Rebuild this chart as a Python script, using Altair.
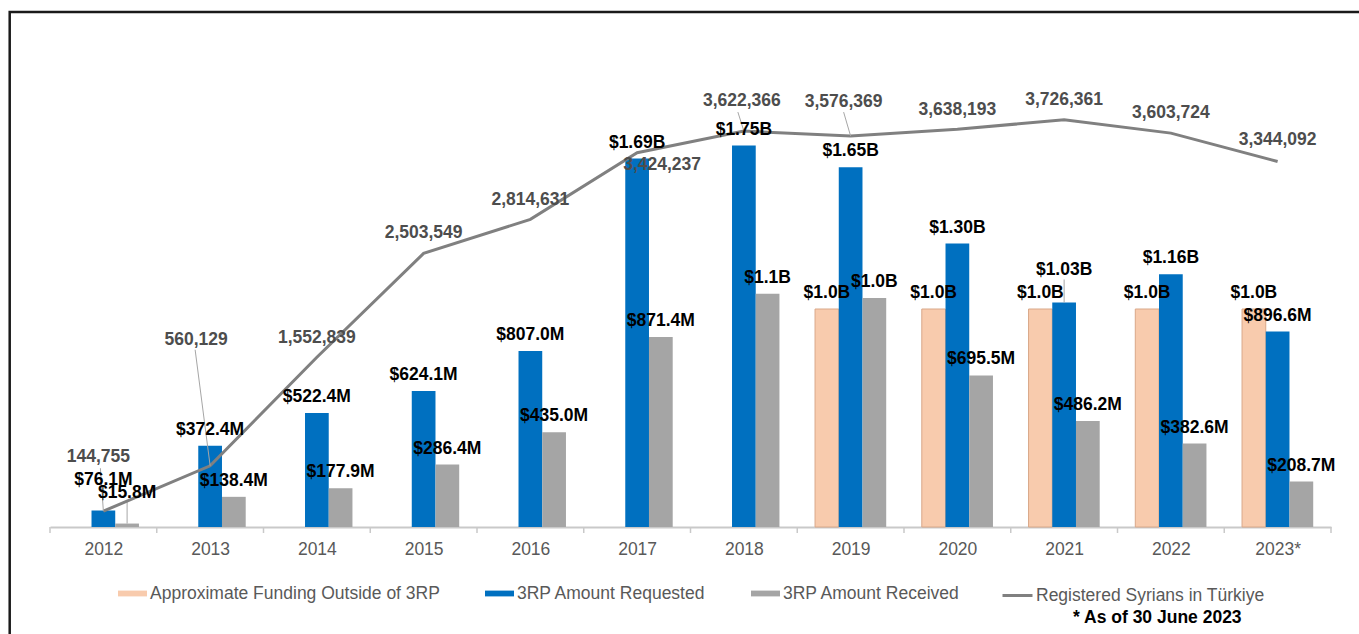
import json
import altair as alt
import pandas as pd

# ---------------- data ----------------
years = ["2012", "2013", "2014", "2015", "2016", "2017", "2018", "2019", "2020", "2021", "2022", "2023*"]
series = ["Approximate Funding Outside of 3RP", "3RP Amount Requested", "3RP Amount Received"]
line_name = "Registered Syrians in Türkiye"

outside_m = [None, None, None, None, None, None, None, 1000, 1000, 1000, 1000, 1000]
requested_m = [76.1, 372.4, 522.4, 624.1, 807.0, 1690, 1750, 1650, 1300, 1030, 1160, 896.6]
received_m = [15.8, 138.4, 177.9, 286.4, 435.0, 871.4, 1070, 1050, 695.5, 486.2, 382.6, 208.7]

outside_lbl = ["", "", "", "", "", "", "", "$1.0B", "$1.0B", "$1.0B", "$1.0B", "$1.0B"]
requested_lbl = ["$76.1M", "$372.4M", "$522.4M", "$624.1M", "$807.0M", "$1.69B", "$1.75B",
                 "$1.65B", "$1.30B", "$1.03B", "$1.16B", "$896.6M"]
received_lbl = ["$15.8M", "$138.4M", "$177.9M", "$286.4M", "$435.0M", "$871.4M", "$1.1B",
                "$1.0B", "$695.5M", "$486.2M", "$382.6M", "$208.7M"]

syrians = [144755, 560129, 1552839, 2503549, 2814631, 3424237, 3622366, 3576369,
           3638193, 3726361, 3603724, 3344092]
syrians_lbl = ["144,755", "560,129", "1,552,839", "2,503,549", "2,814,631", "3,424,237",
               "3,622,366", "3,576,369", "3,638,193", "3,726,361", "3,603,724", "3,344,092"]

colors = ["#F8CBAD", "#0070C0", "#A5A5A5"]
line_color = "#808080"

# ---------------- layout (pixels) ----------------
W, H = 1281, 487
PL, PT = 50, 40
YB = 2234.0          # bar axis max (USD millions)
YL = 4.4556e6        # people axis max
PXU = W / 12.0       # pixels per category
slot = 1 / 4.5
offs = [-slot, 0.0, slot]
hw = slot / 2

# label lifts (px above bar top, label centre)
outside_lift = [16] * 12
requested_lift = [30, 16, 16, 16, 16, 16, 16, 16, 16, 32, 16, 16]
received_lift = [31, 16, 16, 16, 16, 16, 16, 16, 16, 16, 16, 16]
# bar leader lines: (series index, year index)
bar_leaders = [(2, 0), (1, 9)]

# line labels: centre offset from point (px, +x right, +y down)
line_dx = [-5, -14, 0, 0, 0, 25, -2, -7, 0, 0, 0, 0]
line_dy = [-54, -126, -19, -20, -19, 12, -30, -34, -19, -20, -20, -21]
# line leader lines: year index -> start offset from label centre
line_leaders = {0: (2, 11), 1: (-1, 10), 6: (-4, 11), 7: (0, 10)}

FONT = "Liberation Sans"
FS = 17.5


def ub(px):
    return px * YB / H


def ul(px):
    return px * YL / H


# ---------------- frames ----------------
rows = []
for si, (name, vals, lbls, lifts) in enumerate(zip(
        series, [outside_m, requested_m, received_m],
        [outside_lbl, requested_lbl, received_lbl],
        [outside_lift, requested_lift, received_lift])):
    for i, v in enumerate(vals):
        if v is None:
            continue
        c = i + offs[si]
        rows.append(dict(series=name, x0=c - hw, x1=c + hw, xc=c, value=v,
                         label=lbls[i], ly=v + ub(lifts[i]), si=si, yi=i))
df_bars = pd.DataFrame(rows)

brows = []
for si, yi in bar_leaders:
    r = df_bars[(df_bars.si == si) & (df_bars.yi == yi)].iloc[0]
    lift = [outside_lift, requested_lift, received_lift][si][yi]
    brows.append(dict(x=r.xc, y=r.value + ub(lift - 9), y2=r.value))
df_bleader = pd.DataFrame(brows)

df_line = pd.DataFrame(dict(
    idx=list(range(12)), people=syrians, label=syrians_lbl, name=[line_name] * 12,
    lx=[i + line_dx[i] / PXU for i in range(12)],
    ly=[syrians[i] - ul(line_dy[i]) for i in range(12)],
))
lrows = []
for i, (ox, oy) in line_leaders.items():
    lrows.append(dict(x=i + (line_dx[i] + ox) / PXU, y=syrians[i] - ul(line_dy[i] + oy),
                      x2=float(i), y2=syrians[i]))
df_lleader = pd.DataFrame(lrows)

df_ticks = pd.DataFrame(dict(b=[i - 0.5 for i in range(13)]))

xs = alt.Scale(domain=[-0.5, 11.5], nice=False, zero=False)
ysb = alt.Scale(domain=[0, YB], nice=False, zero=True)
ysl = alt.Scale(domain=[0, YL], nice=False, zero=True)

x_axis = alt.Axis(values=list(range(12)), labelExpr=f"{json.dumps(years)}[datum.value]",
                  ticks=False, tickSize=0, grid=False, domainColor="#C9C9C9", domainWidth=2,
                  labelColor="#595959", labelFontSize=FS, labelFont=FONT, labelPadding=22,
                  labelBaseline="middle", title=None, labelFlush=False, labelOverlap=False)


def X(field):
    return alt.X(field, scale=xs, axis=x_axis)


frame = alt.Chart(pd.DataFrame({"k": [0]})).mark_rect(
    filled=False, color="#1a1a1a", strokeWidth=2.5
).encode(x=alt.value(-40.3), x2=alt.value(W + 100), y=alt.value(-28), y2=alt.value(H + 200))

bars = alt.Chart(df_bars).mark_bar().encode(
    x=X("x0:Q"),
    x2="x1:Q",
    y=alt.Y("value:Q", scale=ysb, axis=None),
    y2=alt.datum(0),
    color=alt.Color("series:N", scale=alt.Scale(domain=series, range=colors),
                    legend=alt.Legend(orient="none", legendX=68, legendY=539,
                                      direction="horizontal", columns=3, title=None,
                                      symbolType="M-1,-0.2H1V0.2H-1Z", symbolSize=841,
                                      symbolStrokeWidth=0, labelFontSize=FS,
                                      labelColor="#595959", labelFont=FONT, labelLimit=400,
                                      columnPadding=45, labelOffset=3, padding=0)),
    stroke=alt.condition(alt.datum.si == 0, alt.value("#D9A889"), alt.value("transparent")),
    strokeWidth=alt.value(1),
)

ticks = alt.Chart(df_ticks).mark_rule(color="#C9C9C9", strokeWidth=1.5).encode(
    x=X("b:Q"), y=alt.value(H), y2=alt.value(H + 6)
)

bar_leader = alt.Chart(df_bleader).mark_rule(color="#A6A6A6", strokeWidth=1).encode(
    x=X("x:Q"), y=alt.Y("y:Q", scale=ysb, axis=None), y2="y2:Q"
)

bar_text = alt.Chart(df_bars).mark_text(
    font=FONT, fontSize=FS, fontWeight="bold", color="#000000", baseline="middle", align="center"
).encode(
    x=X("xc:Q"),
    y=alt.Y("ly:Q", scale=ysb, axis=None),
    text="label:N",
)

line = alt.Chart(df_line).mark_line(strokeWidth=3).encode(
    x=X("idx:Q"),
    y=alt.Y("people:Q", scale=ysl, axis=None),
    color=alt.Color("name:N", scale=alt.Scale(domain=[line_name], range=[line_color]),
                    legend=alt.Legend(orient="none", legendX=951, legendY=539, title=None,
                                      symbolType="stroke", symbolSize=900,
                                      symbolStrokeWidth=3, labelFontSize=FS,
                                      labelColor="#595959", labelFont=FONT, labelLimit=400,
                                      labelOffset=2, padding=0)),
)

line_leader = alt.Chart(df_lleader).mark_rule(color="#A6A6A6", strokeWidth=1).encode(
    x=X("x:Q"), x2="x2:Q",
    y=alt.Y("y:Q", scale=ysl, axis=None), y2="y2:Q"
)

line_text = alt.Chart(df_line).mark_text(
    font=FONT, fontSize=FS, fontWeight="bold", color="#4D4D4D", baseline="middle", align="center"
).encode(
    x=X("lx:Q"),
    y=alt.Y("ly:Q", scale=ysl, axis=None),
    text="label:N",
)

note = alt.Chart(pd.DataFrame({"k": [0]})).mark_text(
    font=FONT, fontSize=FS, fontWeight="bold", color="#000000", align="left", baseline="middle"
).encode(x=alt.value(1023), y=alt.value(578), text=alt.value("* As of 30 June 2023"))

chart = alt.layer(
    frame, bars, ticks, bar_leader, line, line_leader, bar_text, line_text, note
).resolve_scale(
    y="independent", color="independent"
).properties(
    width=W, height=H,
    autosize=alt.AutoSizeParams(type="none"),
    padding={"left": PL, "top": PT, "right": 1359 - PL - W, "bottom": 634 - PT - H},
    background="white",
).configure_view(stroke=None)

chart.save("out.html", embed_options={"renderer": "svg", "actions": False})
